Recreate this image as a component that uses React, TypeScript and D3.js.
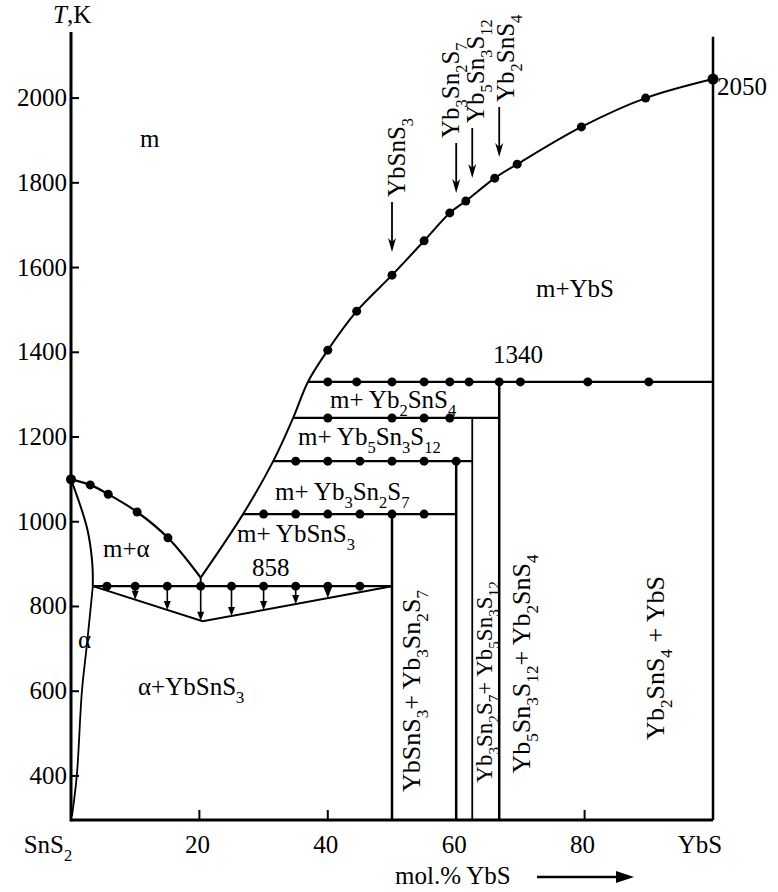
import React from "react";
import * as d3 from "d3";

// composition, mol.% YbS / temperature, K
const liquidusLeft: [number, number][] = [[0, 1100], [3, 1087], [5.8, 1065], [10.3, 1023], [15.1, 962], [20.2, 868]];
const liquidusRight: [number, number][] = [
  [20.2, 868], [26.8, 1018], [31.5, 1143], [34.6, 1245], [36.9, 1330],
  [40, 1405], [44.5, 1497], [50, 1582], [55, 1663], [59, 1729], [61.5, 1757],
  [66, 1811], [69.5, 1844], [79.5, 1932], [89.5, 2000], [100, 2045],
];
const solidusAlpha: [number, number][] = [[0, 1100], [2.5, 985], [3.3, 905], [3.4, 848]];
const solvusAlpha: [number, number][] = [[3.4, 848], [2.5, 713], [1.7, 600], [0.9, 400], [0.15, 305]];

const eutecticT = 848;
const eutecticDots = [5.6, 10, 15, 20.2, 25, 30, 35, 40, 45];
const eutecticLower: [number, number][] = [[3.4, 848], [20.5, 765], [50, 848]];

// horizontal (peritectic) lines
const invT = [1018, 1143, 1245, 1330];
const invFrom = [26.8, 31.5, 34.6, 36.9];
const invTo = [60, 62.5, 66.7, 100];
const invDots = [
  [30, 35, 40, 45, 50, 55],
  [35, 40, 45, 50, 55, 60],
  [40, 50, 55, 59],
  [40, 44.5, 50, 55, 59, 62, 66.7, 70, 80.5, 90],
];

// compounds
const compoundX = [50, 60, 62.5, 66.7];
const compoundTop = [1018, 1143, 1245, 1330];
const compoundNames = ["YbSnS_3", "Yb_3Sn_2S_7", "Yb_5Sn_3S_12", "Yb_2SnS_4"];

const yTicks = [400, 600, 800, 1000, 1200, 1400, 1600, 1800, 2000];
const xTicks = [20, 40, 60, 80];
const xInnerTicks = [20, 40, 80];

const W = 778;
const H = 892;
const SERIF = "Liberation Serif";

const x = d3.scaleLinear().domain([0, 100]).range([71, 713]);
const y = d3.scaleLinear().domain([296, 2156]).range([820, 32]);

const curve = d3.line<[number, number]>().x(d => x(d[0])).y(d => y(d[1])).curve(d3.curveCatmullRom.alpha(0.5));
const poly = d3.line<[number, number]>().x(d => x(d[0])).y(d => y(d[1]));

// text with subscripts, "_12" marks a subscript
function Chem({ s, fs }: { s: string; fs: number }) {
  const parts = s.split(/_(\d+)/);
  const sh = fs * 0.3;
  let down = false;
  const out: React.ReactNode[] = [];
  parts.forEach((p, i) => {
    if (!p) return;
    if (i % 2 === 1) {
      out.push(<tspan key={i} fontFamily={SERIF} fontSize={fs * 0.66} dy={down ? 0 : sh}>{p}</tspan>);
      down = true;
    } else {
      out.push(<tspan key={i} fontFamily={SERIF} dy={down ? -sh : 0}>{p}</tspan>);
      down = false;
    }
  });
  return <>{out}</>;
}

function Dot({ c, T, r = 4.5 }: { c: number; T: number; r?: number }) {
  return <circle cx={x(c)} cy={y(T)} r={r} fill="#000" />;
}

function lowerT(c: number) {
  const [a, b, d] = eutecticLower;
  if (c <= b[0]) return a[1] + ((c - a[0]) / (b[0] - a[0])) * (b[1] - a[1]);
  return b[1] + ((c - b[0]) / (d[0] - b[0])) * (d[1] - b[1]);
}

// arrow tips above the liquidus (px) and label placement
const topArrowTip = [252, 193, 178, 157];
const topLabelX = [405, 459, 484, 514];

export default function App() {
  const fs = 25;
  return (
    <div style={{ position: "absolute", left: 0, top: 0, width: W, height: H, background: "#fff" }}>
      <svg width={W} height={H}>
        {/* axes */}
        <line x1={x(0)} x2={x(0)} y1={y(2156)} y2={y(296) + 1.5} stroke="#000" strokeWidth={3} />
        <line x1={x(0)} x2={x(100)} y1={y(296)} y2={y(296)} stroke="#000" strokeWidth={3} />
        <line x1={x(100)} x2={x(100)} y1={y(2145)} y2={y(296)} stroke="#000" strokeWidth={2.5} />
        {yTicks.map(t => (
          <g key={t}>
            <line x1={x(0)} x2={x(0) + 8} y1={y(t)} y2={y(t)} stroke="#000" strokeWidth={2} />
            <text x={67} y={y(t) + 8} fontFamily={SERIF} fontSize={fs} textAnchor="end">{t}</text>
          </g>
        ))}
        {xInnerTicks.map(t => (
          <line key={t} x1={x(t)} x2={x(t)} y1={y(296)} y2={y(296) - 10} stroke="#000" strokeWidth={2} />
        ))}
        {xTicks.map(t => (
          <text key={t} x={x(t) - 2} y={853} fontFamily={SERIF} fontSize={fs} textAnchor="middle">{t}</text>
        ))}
        <text x={48} y={853} fontFamily={SERIF} fontSize={fs} textAnchor="middle"><Chem s="SnS_2" fs={fs} /></text>
        <text x={700} y={853} fontFamily={SERIF} fontSize={fs} textAnchor="middle">YbS</text>
        <text x={395} y={884} fontFamily={SERIF} fontSize={fs}>mol.% YbS</text>
        <line x1={537} x2={618} y1={877} y2={877} stroke="#000" strokeWidth={2.5} />
        <path d="M616,871 L634,877 L616,883 Z" fill="#000" />
        <text x={53} y={23} fontFamily={SERIF} fontSize={fs}><tspan fontStyle="italic">T</tspan>,K</text>

        {/* alpha solid solution */}
        <path d={curve(solidusAlpha)!} fill="none" stroke="#000" strokeWidth={2} />
        <path d={curve(solvusAlpha)!} fill="none" stroke="#000" strokeWidth={1.8} />

        {/* liquidus */}
        <path d={curve(liquidusLeft)!} fill="none" stroke="#000" strokeWidth={2.2} />
        <path d={curve(liquidusRight)!} fill="none" stroke="#000" strokeWidth={2} />
        {liquidusLeft.slice(0, 5).map((d, i) => <Dot key={i} c={d[0]} T={d[1]} r={i === 0 ? 5 : 4.5} />)}
        {liquidusRight.slice(5).map((d, i, a) => <Dot key={i} c={d[0]} T={d[1]} r={i === a.length - 1 ? 5.5 : 4.5} />)}
        {/* short join from the V tip to the eutectic line */}
        <line x1={x(20.2)} x2={x(20.2)} y1={y(868)} y2={y(eutecticT)} stroke="#000" strokeWidth={2} />

        {/* eutectic */}
        <line x1={x(3.4)} x2={x(50)} y1={y(eutecticT)} y2={y(eutecticT)} stroke="#000" strokeWidth={2.2} />
        <path d={poly(eutecticLower)!} fill="none" stroke="#000" strokeWidth={2} />
        {eutecticDots.map(c => {
          const yl = y(lowerT(c));
          const y0 = y(eutecticT);
          const show = yl - y0 > 8;
          return (
            <g key={c}>
              <Dot c={c} T={eutecticT} />
              {show && <line x1={x(c)} x2={x(c)} y1={y0} y2={yl - 4} stroke="#000" strokeWidth={1.6} />}
              {show && <path d={`M${x(c) - 3.5},${yl - 9} L${x(c) + 3.5},${yl - 9} L${x(c)},${yl} Z`} fill="#000" />}
            </g>
          );
        })}

        {/* peritectic horizontals */}
        {invT.map((T, i) => (
          <g key={T}>
            <line x1={x(invFrom[i])} x2={x(invTo[i])} y1={y(T)} y2={y(T)} stroke="#000" strokeWidth={2.2} />
            {invDots[i].map(c => <Dot key={c} c={c} T={T} />)}
          </g>
        ))}

        {/* compound verticals */}
        {compoundX.map((c, i) => (
          <line key={c} x1={x(c)} x2={x(c)} y1={y(compoundTop[i])} y2={y(296)} stroke="#000"
            strokeWidth={i === 2 ? 1.8 : 2.5} />
        ))}

        {/* compound arrows on top */}
        {compoundX.map((c, i) => {
          const tip = topArrowTip[i];
          const cx = x(c);
          return (
            <g key={"a" + c}>
              <line x1={cx} x2={cx} y1={tip - 50} y2={tip - 8} stroke="#000" strokeWidth={1.8} />
              <path d={`M${cx - 4},${tip - 14} L${cx},${tip - 10} L${cx + 4},${tip - 14} L${cx},${tip} Z`} fill="#000" />
              <text transform={`translate(${topLabelX[i]},${tip - 55}) rotate(-90)`} fontFamily={SERIF} fontSize={fs}>
                <Chem s={compoundNames[i]} fs={fs} />
              </text>
            </g>
          );
        })}

        {/* phase field labels */}
        <text x={140} y={147} fontFamily={SERIF} fontSize={fs}>m</text>
        <text x={536} y={297} fontFamily={SERIF} fontSize={fs}>m+YbS</text>
        <text x={717} y={95} fontFamily={SERIF} fontSize={fs}>2050</text>
        <text x={493} y={363} fontFamily={SERIF} fontSize={fs}>1340</text>
        <text x={330} y={408} fontFamily={SERIF} fontSize={fs}><Chem s="m+ Yb_2SnS_4" fs={fs} /></text>
        <text x={298} y={445} fontFamily={SERIF} fontSize={fs}><Chem s="m+ Yb_5Sn_3S_12" fs={fs} /></text>
        <text x={275} y={500} fontFamily={SERIF} fontSize={fs}><Chem s="m+ Yb_3Sn_2S_7" fs={fs} /></text>
        <text x={237} y={542} fontFamily={SERIF} fontSize={fs}><Chem s="m+ YbSnS_3" fs={fs} /></text>
        <text x={252} y={576} fontFamily={SERIF} fontSize={fs}>858</text>
        <text x={103} y={557} fontFamily={SERIF} fontSize={fs}>m+α</text>
        <text x={78} y={648} fontFamily={SERIF} fontSize={fs}>α</text>
        <text x={138} y={695} fontFamily={SERIF} fontSize={fs}><Chem s="α+YbSnS_3" fs={fs} /></text>

        <text transform="translate(420,691) rotate(-90)" textAnchor="middle" fontFamily={SERIF} fontSize={26}>
          <Chem s="YbSnS_3+ Yb_3Sn_2S_7" fs={26} />
        </text>
        <text transform="translate(492,682) rotate(-90)" textAnchor="middle" fontFamily={SERIF} fontSize={23}>
          <Chem s="Yb_3Sn_2S_7+ Yb_5Sn_3S_12" fs={23} />
        </text>
        <text transform="translate(530,664) rotate(-90)" textAnchor="middle" fontFamily={SERIF} fontSize={26}>
          <Chem s="Yb_5Sn_3S_12+ Yb_2SnS_4" fs={26} />
        </text>
        <text transform="translate(664,658) rotate(-90)" textAnchor="middle" fontFamily={SERIF} fontSize={26}>
          <Chem s="Yb_2SnS_4 + YbS" fs={26} />
        </text>
      </svg>
    </div>
  );
}
